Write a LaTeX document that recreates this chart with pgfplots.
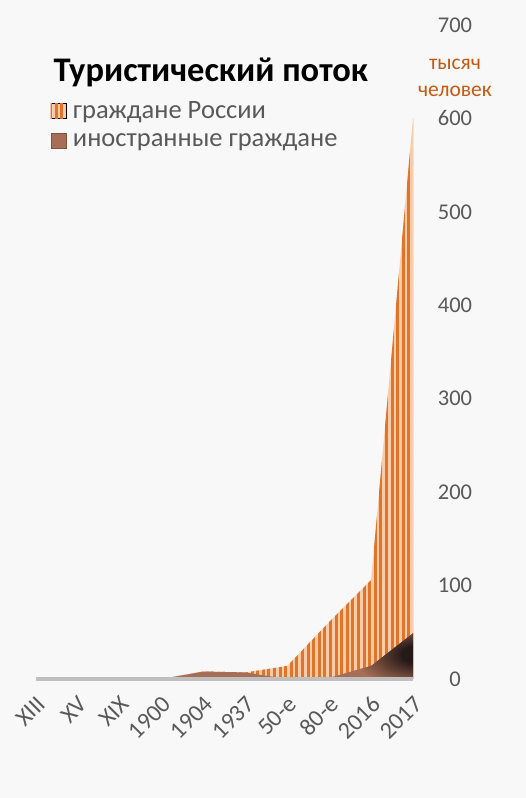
\documentclass[border=0pt]{standalone}
\usepackage{fontspec}
\setmainfont{Carlito}
\usepackage{pgfplots}
\usepackage{pgfplotstable}
\pgfplotsset{compat=1.18}
\usetikzlibrary{patterns.meta}

\definecolor{bg}{HTML}{F8F8F8}
\definecolor{rusline}{HTML}{E0752A}
\definecolor{ruslight}{HTML}{F6CCAA}
\definecolor{forbrown}{HTML}{A86D57}
\definecolor{fordark}{HTML}{251A17}
\definecolor{axgray}{HTML}{BFBFBF}
\definecolor{txtgray}{HTML}{595959}
\definecolor{unitorange}{HTML}{C55A11}

% dark core of the foreign-visitors area, near 2016-2017
\pgfdeclareradialshading{forblob}{\pgfpoint{31bp}{2bp}}{%
  color(0bp)=(fordark); color(10bp)=(fordark); color(34bp)=(forbrown); color(130bp)=(forbrown)}

% thousands of visitors: foreign, and foreign + Russian
\pgfplotstableread{
x foreign total
0 0 0
1 0 0
2 0 0
3 0 0
4 8 8
5 7 7
6 0 14
7 1 61
8 14 106
9 49 600
}\flowdata

\begin{document}
\begin{tikzpicture}
\path[use as bounding box, fill=bg] (0,0) rectangle (526pt,798pt);
\begin{axis}[
    scale only axis,
    width=377pt, height=654pt,
    at={(36pt,119pt)}, anchor=south west,
    xmin=0, xmax=9, ymin=0, ymax=700,
    area style,
    axis on top,
    axis x line*=bottom,
    axis y line*=right,
    x axis line style={axgray, line width=4pt, -},
    y axis line style={draw=none},
    major tick style={draw=none},
    /pgf/number format/assume math mode=true,
    xtick={0,...,9},
    xticklabels={XIII,XV,XIX,1900,1904,1937,50-е,80-е,2016,2017},
    xticklabel style={xshift=5.4pt, yshift=-21.4pt, rotate=45, anchor=east, inner sep=0pt,
        font=\fontsize{24}{24}\selectfont, text=txtgray},
    ytick={0,100,...,700},
    yticklabel style={anchor=center, xshift=42pt,
        font=\fontsize{22.5}{22.5}\selectfont, text=txtgray},
    legend cell align=left,
    legend style={at={(0.038,0.886)}, anchor=north west, draw=none, fill=none,
        font=\fontsize{26.5}{26.5}\selectfont, text=txtgray, row sep=9pt,
        inner sep=0pt},
    legend image code/.code={\draw[#1] (0pt,-7.5pt) rectangle (15pt,7.5pt); \path (20pt,0pt);},
]
\addlegendimage{fill=ruslight, draw=none,
    postaction={pattern={Lines[angle=90, distance=5.6pt, line width=3pt]}, pattern color=rusline}}
\addlegendentry{граждане России}
\addlegendimage{fill=forbrown, draw=forbrown!75!black}
\addlegendentry{иностранные граждане}

% Russian citizens, stacked on top of the foreign ones
\addplot[forget plot, fill=ruslight, draw=none,
    postaction={pattern={Lines[angle=90, distance=5.6pt, line width=3pt]}, pattern color=rusline}]
    table[x=x, y=total] {\flowdata} \closedcycle;
% foreign citizens
\addplot[forget plot, fill=forbrown, draw=none]
    table[x=x, y=foreign] {\flowdata} \closedcycle;
\addplot[forget plot, draw=none, shading=forblob, skip coords between index={0}{7}]
    table[x=x, y=foreign] {\flowdata} \closedcycle;
\end{axis}
\node[anchor=base west, font=\bfseries\fontsize{34.5}{34.5}\selectfont] at (50pt,716pt) {Туристический поток};
\node[align=center, anchor=base, text=unitorange, font=\fontsize{21.5}{27}\selectfont]
    at (455pt,701pt) {тысяч\\человек};
\end{tikzpicture}
\end{document}
